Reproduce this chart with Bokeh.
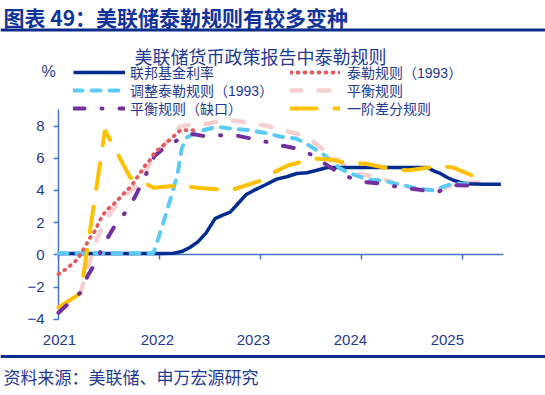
from bokeh.plotting import figure
from bokeh.models import LinearAxis, FixedTicker, Label, Span, Legend, LegendItem, Range1d
from bokeh.core.properties import value
from bokeh.embed import file_html
from bokeh.resources import INLINE

# ---------------- data ----------------
ffr_x = [2021.00, 2021.50, 2022.00, 2022.14, 2022.22, 2022.30, 2022.38, 2022.46, 2022.55, 2022.62,
         2022.70, 2022.78, 2022.86, 2022.95, 2023.05, 2023.16, 2023.26, 2023.36, 2023.46, 2023.56,
         2023.66, 2024.00, 2024.30, 2024.65, 2024.72, 2024.78, 2024.85, 2024.91, 2024.98, 2025.05,
         2025.20, 2025.38]
ffr_y = [0.08, 0.08, 0.08, 0.10, 0.20, 0.45, 0.80, 1.35, 2.25, 2.45,
         2.65, 3.20, 3.75, 4.05, 4.35, 4.70, 4.85, 5.05, 5.10, 5.25,
         5.42, 5.42, 5.42, 5.42, 5.20, 5.05, 4.80, 4.63, 4.50, 4.42,
         4.38, 4.38]

taylor_x = [2021.00, 2021.06, 2021.13, 2021.19, 2021.27, 2021.31, 2021.36, 2021.43, 2021.48, 2021.55,
            2021.60, 2021.66, 2021.72, 2021.81, 2021.86, 2021.91, 2021.95, 2022.02, 2022.08, 2022.21,
            2022.34]
taylor_y = [-1.20, -0.95, -0.60, -0.27, 0.58, 1.03, 1.47, 2.39, 2.80, 3.17,
            3.49, 3.90, 4.26, 5.09, 5.56, 5.92, 6.33, 6.71, 7.02, 7.75,
            7.75]

adj_x = [2021.00, 2021.94, 2022.03, 2022.11, 2022.18, 2022.22, 2022.27, 2022.41, 2022.57, 2022.69,
         2022.87, 2023.07, 2023.20, 2023.35, 2023.48, 2023.63, 2023.79, 2023.89, 2024.06, 2024.20,
         2024.39, 2024.55, 2024.71, 2024.80, 2024.90, 2025.07]
adj_y = [0.10, 0.10, 1.83, 3.49, 5.05, 6.60, 7.30, 7.70, 7.95, 7.85,
         7.75, 7.55, 7.33, 7.23, 6.80, 6.20, 5.36, 5.05, 4.68, 4.62,
         4.35, 4.12, 4.00, 4.20, 4.42, 4.42]

bal_x = [2021.00, 2021.22, 2021.30, 2021.38, 2021.50, 2021.63, 2021.79, 2021.90, 2022.00, 2022.20,
         2022.27, 2022.49, 2022.63, 2022.78, 2022.92, 2023.07, 2023.20, 2023.35, 2023.48, 2023.59,
         2023.67, 2023.76, 2023.95, 2024.07, 2024.20, 2024.37, 2024.50, 2024.61, 2024.75, 2024.90,
         2025.05, 2025.20]
bal_y = [-3.57, -2.30, -0.60, 1.00, 2.50, 3.50, 4.40, 5.60, 6.50, 7.95,
         8.05, 8.16, 8.37, 8.30, 8.16, 8.00, 7.75, 7.54, 7.23, 6.70,
         6.20, 5.90, 5.02, 4.94, 4.74, 4.32, 4.10, 4.00, 4.00, 4.32,
         4.49, 4.49]

gap_x = [2021.00, 2021.22, 2021.29, 2021.37, 2021.43, 2021.50, 2021.58, 2021.68, 2021.76, 2021.83,
         2021.89, 2021.95, 2022.08, 2022.18, 2022.32, 2022.47, 2022.62, 2022.77, 2022.92, 2023.07,
         2023.20, 2023.36, 2023.48, 2023.62, 2023.76, 2023.87, 2024.03, 2024.19, 2024.32, 2024.48,
         2024.63, 2024.70, 2024.77, 2024.92, 2025.08, 2025.21]
gap_y = [-3.60, -2.33, -1.29, -0.46, 0.37, 1.20, 2.03, 2.76, 3.63, 4.52,
         5.30, 6.14, 6.81, 7.12, 7.50, 7.35, 7.43, 7.40, 7.20, 7.00,
         6.80, 6.60, 6.30, 5.73, 5.15, 4.83, 4.52, 4.42, 4.26, 4.11,
         4.00, 3.88, 3.95, 4.32, 4.30, 4.25]

fd_x = [2021.00, 2021.22, 2021.46, 2021.71, 2021.81, 2021.94, 2022.20, 2022.40, 2022.70, 2022.85,
        2023.00, 2023.12, 2023.27, 2023.53, 2023.69, 2023.88, 2024.03, 2024.32, 2024.47, 2024.77,
        2024.91, 2025.09]
fd_y = [-3.26, -2.39, 7.74, 4.80, 4.60, 4.17, 4.30, 4.15, 4.00, 4.30,
        4.60, 5.08, 5.55, 5.98, 5.92, 5.67, 5.67, 5.30, 5.25, 5.50,
        5.42, 4.94]

y_ticks = [-4, -2, 0, 2, 4, 6, 8]
year_ticks = [2021, 2022, 2023, 2024, 2025]
year_labels = ["2021", "2022", "2023", "2024", "2025"]
year_label_pos = [2021.01, 2021.98, 2022.93, 2023.89, 2024.85]

names = ["联邦基金利率", "泰勒规则（1993）", "调整泰勒规则（1993）", "平衡规则", "平衡规则（缺口）", "一阶差分规则"]

main_title = "图表 49：美联储泰勒规则有较多变种"
chart_title = "美联储货币政策报告中泰勒规则"
source_text = "资料来源：美联储、申万宏源研究"

# ---------------- layout / style ----------------
W, H = 545, 395
X0_PX, PPX = 58.0, 101.0      # pixel of 2021.0, pixels per year
Y0_PX, PPY = 254.3, 16.1      # pixel of value 0, pixels per unit
CJK = "Noto Sans CJK SC"
NUM = "Liberation Sans"
MIX = "Liberation Sans, Noto Sans CJK SC"
TXT = "#1F3A93"
TITLE_C = "#12339A"
RULE = "#0C2E8A"
AX = "#4A72C6"

x_range = Range1d(2021 - X0_PX / PPX, 2021 + (W - X0_PX) / PPX)
y_range = Range1d(-(H - Y0_PX) / PPY, Y0_PX / PPY)

p = figure(width=W, height=H, x_range=x_range, y_range=y_range,
           x_axis_type=None, y_axis_type=None, toolbar_location=None, tools="",
           output_backend="svg", min_border=0, outline_line_color=None, title=None,
           background_fill_color="white", border_fill_color="white")

# axes
yaxis = LinearAxis(fixed_location=2021.0, ticker=FixedTicker(ticks=y_ticks), bounds=(-4, 9),
                   axis_line_color=AX, axis_line_width=1.5,
                   major_tick_line_color=AX, major_tick_line_width=1.5,
                   major_tick_out=5, major_tick_in=0, minor_tick_out=0, minor_tick_in=0,
                   major_label_standoff=9, major_label_text_font=NUM,
                   major_label_text_font_size="15px", major_label_text_color=TXT,
                   level="underlay")
p.add_layout(yaxis, "left")

xaxis = LinearAxis(fixed_location=0, ticker=FixedTicker(ticks=year_label_pos, minor_ticks=year_ticks),
                   bounds=(2021, 2021 + 445 / PPX),
                   major_label_overrides=dict(zip(year_label_pos, year_labels)),
                   axis_line_color=AX, axis_line_width=1.5,
                   major_tick_out=0, major_tick_in=0,
                   minor_tick_out=5, minor_tick_in=0, minor_tick_line_color=AX, minor_tick_line_width=1.5,
                   major_label_standoff=75, major_label_text_font=NUM,
                   major_label_text_font_size="15px", major_label_text_color=TXT,
                   level="underlay")
p.add_layout(xaxis, "below")

# series
r_bal = p.line(bal_x, bal_y, line_color="#F6D0D0", line_width=4.5, line_dash="11 17", line_cap="round")
r_ffr = p.line(ffr_x, ffr_y, line_color="#022D8E", line_width=3.5, line_join="round")
r_adj = p.line(adj_x, adj_y, line_color="#5BCBF5", line_width=4, line_dash="9 9", line_cap="round")
r_fd = p.line(fd_x, fd_y, line_color="#FFC000", line_width=4, line_dash="26 18", line_cap="round")
r_gap = p.line(gap_x, gap_y, line_color="#7030A0", line_width=4, line_dash="11 17 1 17", line_cap="round")
r_tay = p.line(taylor_x, taylor_y, line_color="#E35A5F", line_width=3.8, line_dash="1 6", line_cap="round")

# legend: one single-item legend per slot, two columns of three rows
ROW_H = 18
leg_common = dict(orientation="vertical", glyph_height=ROW_H, label_height=ROW_H,
                  spacing=0, padding=0, margin=0, border_line_alpha=0, background_fill_alpha=0,
                  label_text_font=MIX, label_text_font_size="14px", label_text_color=TXT)
row_centers = [72.5, 90.5, 108.5]
col1 = [(names[0], r_ffr), (names[2], r_adj), (names[4], r_gap)]
col2 = [(names[1], r_tay), (names[3], r_bal), (names[5], r_fd)]
for (lab, r), cy in zip(col1, row_centers):
    p.add_layout(Legend(items=[LegendItem(label=value(lab), renderers=[r])],
                        location=(73, H - (cy + ROW_H / 2)), glyph_width=52, label_standoff=5,
                        **leg_common))
for (lab, r), cy in zip(col2, row_centers):
    p.add_layout(Legend(items=[LegendItem(label=value(lab), renderers=[r])],
                        location=(290, H - (cy + ROW_H / 2)), glyph_width=50, label_standoff=7,
                        **leg_common))

# texts and rules
p.add_layout(Label(x=3, y=H - 16, x_units="screen", y_units="screen", text=main_title,
                   text_font=CJK, text_font_style="bold", text_font_size="21px",
                   text_color=TITLE_C, text_baseline="middle", text_align="left"))
p.add_layout(Span(location=(Y0_PX - 29.5) / PPY, dimension="width", line_color=RULE, line_width=3))
p.add_layout(Label(x=260, y=H - 55, x_units="screen", y_units="screen", text=chart_title,
                   text_font=CJK, text_font_size="18px", text_color=TXT,
                   text_baseline="middle", text_align="center"))
p.add_layout(Label(x=48, y=H - 71, x_units="screen", y_units="screen", text="%",
                   text_font=NUM, text_font_size="16px", text_color=TXT,
                   text_baseline="middle", text_align="center"))
p.add_layout(Span(location=(Y0_PX - 356) / PPY, dimension="width", line_color=RULE, line_width=3))
p.add_layout(Label(x=3, y=H - 376, x_units="screen", y_units="screen", text=source_text,
                   text_font=CJK, text_font_size="17px", text_color=TXT,
                   text_baseline="middle", text_align="left"))

open("out.html", "w").write(file_html(p, INLINE))
